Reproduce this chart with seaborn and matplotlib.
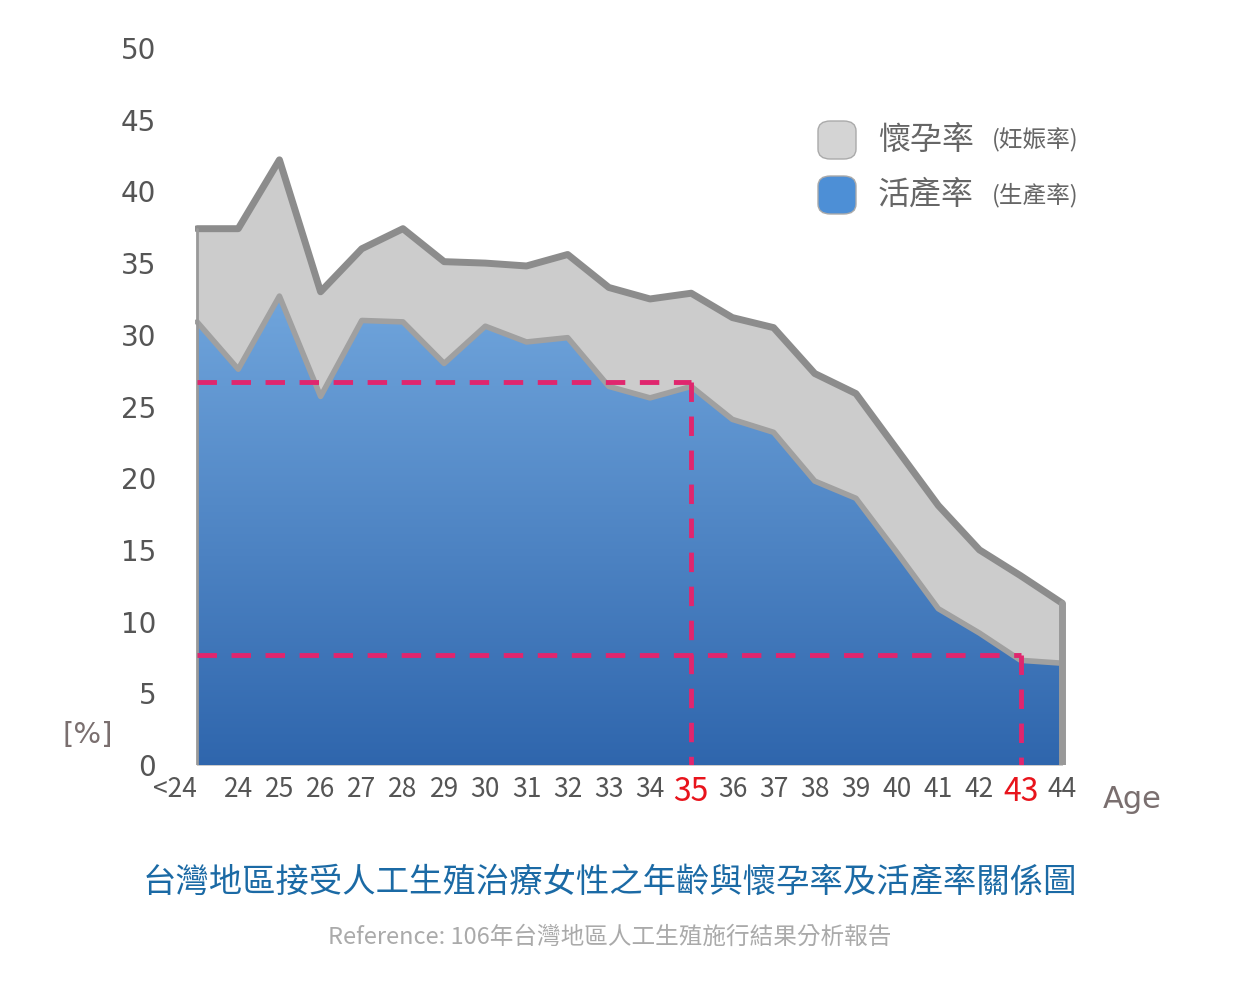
import numpy as np
import pandas as pd
import seaborn as sns
from matplotlib import pyplot as plt
from matplotlib.patches import FancyBboxPatch, Polygon
from matplotlib.colors import LinearSegmentedColormap

#%% DATA
ages = ['<24', '24', '25', '26', '27', '28', '29', '30', '31', '32', '33',
        '34', '35', '36', '37', '38', '39', '40', '41', '42', '43', '44']
pregnancy = [37.4, 37.4, 42.2, 33.0, 36.0, 37.4, 35.1, 35.0, 34.8, 35.6, 33.3,
             32.5, 32.9, 31.2, 30.5, 27.3, 25.9, 22.0, 18.1, 15.0, 13.2, 11.3]
livebirth = [30.9, 27.6, 32.7, 25.7, 31.0, 30.9, 28.0, 30.6, 29.5, 29.8, 26.4,
             25.6, 26.4, 24.1, 23.2, 19.8, 18.6, 14.8, 10.9, 9.2, 7.3, 7.1]
ref_35 = 26.7
ref_43 = 7.7

df = pd.DataFrame({'x': np.arange(len(ages)), 'preg': pregnancy, 'live': livebirth})

sns.set_style('white')
fnt = 'Noto Sans CJK TC'
fig = plt.figure(figsize=(12.4, 9.9), dpi=100)
ax = fig.add_axes([195/1240, 1-765/990, (1068-195)/1240, (765-48)/990])
x = df['x'].values

# gray pregnancy area
ax.fill_between(x, df['preg'], 0, color='#cccccc', zorder=1)
# gradient blue live-birth area
grad = np.linspace(0, 1, 256).reshape(-1, 1)
cmap = LinearSegmentedColormap.from_list('b', ['#2f66ad', '#70a5dc'])
im = ax.imshow(grad, cmap=cmap, aspect='auto', origin='lower',
               extent=[x[0], x[-1], 0, max(livebirth)], zorder=2)
poly = Polygon(np.column_stack([np.r_[x, x[::-1]], np.r_[df['live'], np.zeros(len(x))]]),
               closed=True, transform=ax.transData, facecolor='none', edgecolor='none')
ax.add_patch(poly)
im.set_clip_path(poly)

sns.lineplot(data=df, x='x', y='preg', color='#8c8c8c', lw=5, ax=ax, zorder=3)
sns.lineplot(data=df, x='x', y='live', color='#a0a0a0', lw=4, ax=ax, zorder=3)
ax.plot([x[-1], x[-1]], [0, pregnancy[-1]], color='#999999', lw=5, zorder=3)
ax.plot([x[0], x[0]], [0, pregnancy[0]], color='#999999', lw=2, zorder=3)

# dashed reference lines
dc = '#e0266e'
i35, i43 = ages.index('35'), ages.index('43')
ax.plot([x[0], x[i35]], [ref_35, ref_35], ls=(0, (4, 3)), color=dc, lw=3.5, zorder=4)
ax.plot([x[i35], x[i35]], [ref_35, 0], ls=(0, (4, 3)), color=dc, lw=3.5, zorder=4)
ax.plot([x[0], x[i43]], [ref_43, ref_43], ls=(0, (4, 3)), color=dc, lw=3.5, zorder=4)
ax.plot([x[i43], x[i43]], [ref_43, 0], ls=(0, (4, 3)), color=dc, lw=3.5, zorder=4)

ax.set_xlim(x[0] - 0.05, x[-1] + 0.15)
ax.set_ylim(0, 50)
ax.set_yticks(range(0, 51, 5))
ax.set_xticks(x)
ax.set_xticklabels(ages, fontfamily=fnt)
ax.tick_params(length=0, labelsize=20, colors='#555555')
ax.tick_params(axis='y', pad=28)
ax.tick_params(axis='x', pad=8, labelsize=19)
for lbl in ax.get_xticklabels():
    if lbl.get_text() == '<24':
        lbl.set_horizontalalignment('right')
        lbl.set_x(0.35)
    if lbl.get_text() in ('35', '43'):
        lbl.set_color('#e8141c'); lbl.set_fontsize(23)
for s in ax.spines.values():
    s.set_visible(False)
ax.set_xlabel(''); ax.set_ylabel('')

fig.text(88/1240, 1-735/990, '[%]', fontsize=21, color='#7a6f6f', ha='center', va='center')
fig.text(1132/1240, 1-800/990, 'Age', fontsize=22, color='#7a6f6f', ha='center', va='center')

for yy, c, big, small in [(140, '#d4d4d4', '懷孕率', '(妊娠率)'), (195, '#4d8fd6', '活產率', '(生產率)')]:
    fig.patches.append(FancyBboxPatch((818/1240, 1-(yy+19)/990), 38/1240, 38/990,
                                      boxstyle='round,pad=0,rounding_size=0.01',
                                      transform=fig.transFigure, facecolor=c,
                                      edgecolor='#aaaaaa', lw=1))
    fig.text(878/1240, 1-yy/990, big, fontsize=23, color='#666666', va='center', fontfamily=fnt)
    fig.text(992/1240, 1-yy/990, small, fontsize=17, color='#666666', va='center', fontfamily=fnt)

fig.text(610/1240, 1-882/990, '台灣地區接受人工生殖治療女性之年齡與懷孕率及活產率關係圖',
         fontsize=24, color='#1b6aa5', ha='center', va='center', fontfamily=fnt)
fig.text(610/1240, 1-937/990, 'Reference: 106年台灣地區人工生殖施行結果分析報告',
         fontsize=17, color='#aaaaaa', ha='center', va='center', fontfamily=fnt)

fig.savefig('out.png', dpi=100)
